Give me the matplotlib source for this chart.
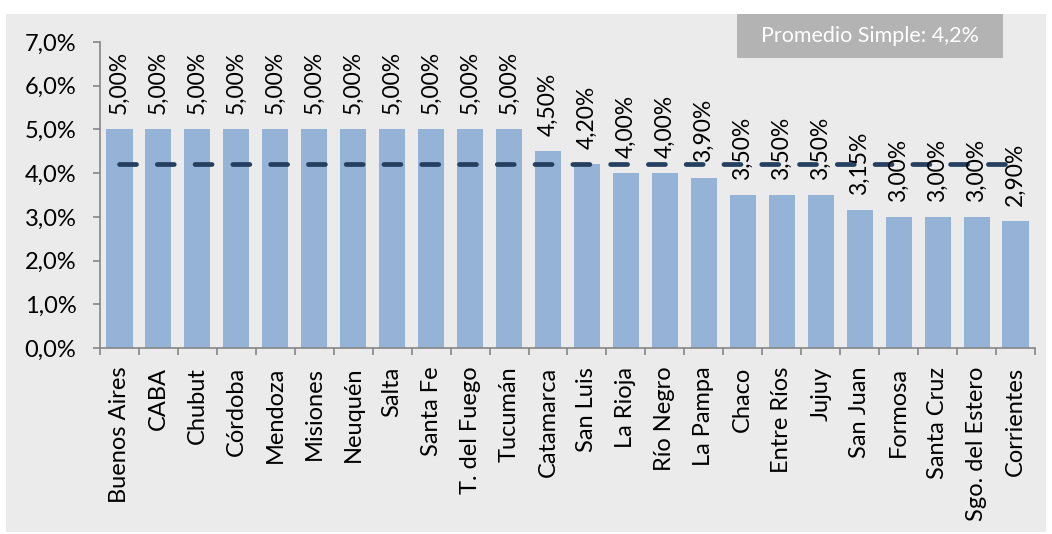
import matplotlib.pyplot as plt
from matplotlib.patches import Rectangle
from matplotlib.ticker import FuncFormatter
import numpy as np

provincias = ["Buenos Aires", "CABA", "Chubut", "Córdoba", "Mendoza", "Misiones",
              "Neuquén", "Salta", "Santa Fe", "T. del Fuego", "Tucumán", "Catamarca",
              "San Luis", "La Rioja", "Río Negro", "La Pampa", "Chaco", "Entre Ríos",
              "Jujuy", "San Juan", "Formosa", "Santa Cruz", "Sgo. del Estero", "Corrientes"]
tasas = [5.00, 5.00, 5.00, 5.00, 5.00, 5.00, 5.00, 5.00, 5.00, 5.00, 5.00, 4.50,
         4.20, 4.00, 4.00, 3.90, 3.50, 3.50, 3.50, 3.15, 3.00, 3.00, 3.00, 2.90]
promedio = 4.2
promedio_txt = "Promedio Simple: 4,2%"

plt.rcParams['font.family'] = ['Lato', 'DejaVu Sans']

fig = plt.figure(figsize=(10.52, 5.34), dpi=100)
fig.patches.append(Rectangle((6 / 1052, 1 - 532 / 534), 1040 / 1052, 518 / 534,
                             transform=fig.transFigure, facecolor='#ebebeb',
                             edgecolor='none', zorder=-2))
fig.patches.append(Rectangle((737 / 1052, 1 - 58 / 534), 266 / 1052, 44 / 534,
                             transform=fig.transFigure, facecolor='#b3b3b3',
                             edgecolor='none', zorder=-1))
ax = fig.add_axes([100 / 1052, 1 - 348 / 534, 935 / 1052, 306 / 534])
ax.set_facecolor('none')

n = len(provincias)
x = np.arange(n)
vals = np.array(tasas) / 100
ax.bar(x, vals, width=0.67, color='#95b3d7', zorder=2)

ax.plot([0, n - 1], [promedio / 100] * 2, color='#243f60', lw=3.4,
        dashes=(3.6, 4.4), dash_capstyle='round', zorder=3)

for xi, v in zip(x, tasas):
    ax.annotate(f"{v:.2f}".replace('.', ',') + "%", (xi, v / 100),
                xytext=(0, 11), textcoords='offset points', rotation=90,
                ha='center', va='bottom', fontsize=16.5, zorder=4)

ax.set_xlim(-0.5, n - 0.5)
ax.set_ylim(0, 0.07)
ax.set_yticks(np.arange(0, 0.0701, 0.01))
ax.yaxis.set_major_formatter(FuncFormatter(lambda v, p: f"{v*100:.1f}".replace('.', ',') + "%"))
ax.set_xticks(x)
ax.set_xticklabels(provincias, rotation=90, fontsize=17)
ax.set_xticks(np.arange(-0.5, n), minor=True)
ax.tick_params(axis='x', which='major', length=0, pad=13.5)
ax.tick_params(axis='x', which='minor', length=5, color='#868686', width=1.2)
ax.tick_params(axis='y', length=5, color='#868686', width=1.2, pad=12, labelsize=17)

for s in ['top', 'right']:
    ax.spines[s].set_visible(False)
for s in ['left', 'bottom']:
    ax.spines[s].set_color('#868686')
    ax.spines[s].set_linewidth(1.2)

fig.text(870 / 1052, 1 - 36 / 534, promedio_txt, ha='center', va='center',
         color='white', fontsize=15.5)

fig.savefig('out.png', dpi=100)
